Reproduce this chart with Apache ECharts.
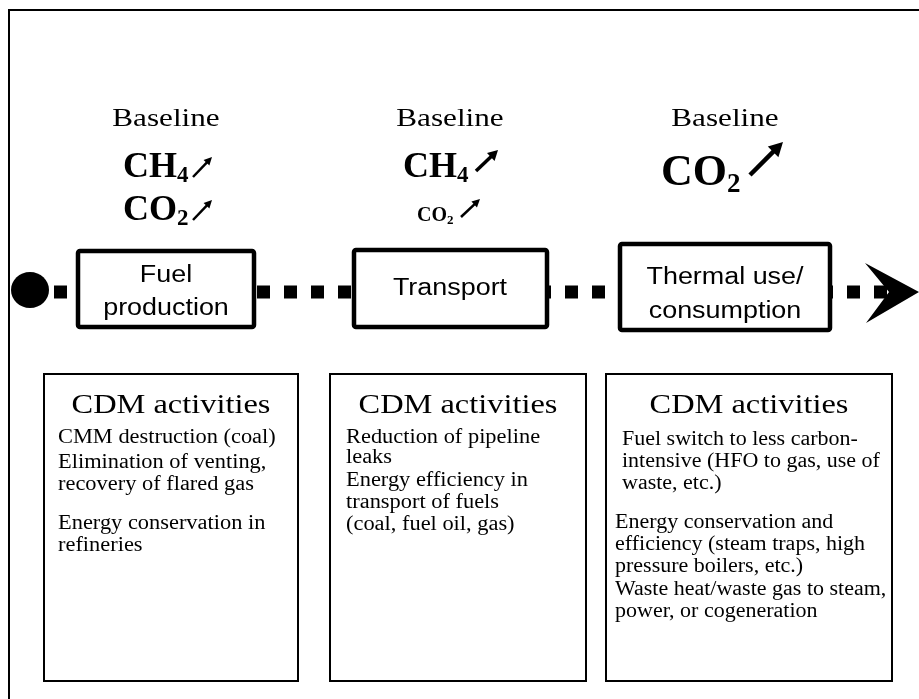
<!DOCTYPE html>
<html><head><meta charset="utf-8">
<script src="https://cdn.jsdelivr.net/npm/echarts@6/dist/echarts.min.js"></script>
<style>html,body{margin:0;padding:0;background:#fff}#c{width:919px;height:699px}</style>
</head><body><div id="c"></div>
<script>
// ---- content ----
const stageLabels = [['Fuel', 'production'], ['Transport'], ['Thermal use/', 'consumption']];
const baselineLabel = 'Baseline';
const gasesFuel = [['CH', '4'], ['CO', '2']];
const gasesTransport = [['CH', '4'], ['CO', '2']];
const gasesThermal = [['CO', '2']];
const activityTitle = 'CDM activities';
const activitiesFuel = ['CMM destruction (coal)', 'Elimination of venting,', 'recovery of flared gas', 'Energy conservation in', 'refineries'];
const activitiesTransport = ['Reduction of pipeline', 'leaks', 'Energy efficiency in', 'transport of fuels', '(coal, fuel oil, gas)'];
const activitiesThermal = ['Fuel switch to less carbon-', 'intensive (HFO to gas, use of', 'waste, etc.)', 'Energy conservation and', 'efficiency (steam traps, high', 'pressure boilers, etc.)', 'Waste heat/waste gas to steam,', 'power, or cogeneration'];

// ---- layout ----
const SERIF = '"Liberation Serif", "Times New Roman", serif';
const SANS = '"Liberation Sans", Arial, sans-serif';
const lineY = 292;
const stageBoxes = [
  {x: 78, y: 251, w: 176, h: 76},
  {x: 354, y: 250, w: 193, h: 77},
  {x: 620, y: 244, w: 210, h: 86}
];
const stageTextY = [[276, 309], [289], [278, 312]];
const actBoxes = [
  {x: 44, y: 374, w: 254, h: 307},
  {x: 330, y: 374, w: 256, h: 307},
  {x: 606, y: 374, w: 286, h: 307}
];
const colCenters = [166, 450, 725];
const actCenters = [171, 458, 749];

const els = [];
function txt(t, x, y, font, align, sx, z) {
  els.push({type: 'text', x: x, y: y, scaleX: sx || 1, z: z || 10,
    style: {text: t, x: 0, y: 0, font: font, fill: '#000',
      textAlign: align, align: align, textVerticalAlign: 'middle', verticalAlign: 'middle'}});
}
function arrow(x1, y1, x2, y2, lw, hl, hw) {
  const dx = x2 - x1, dy = y2 - y1, L = Math.hypot(dx, dy);
  const ux = dx / L, uy = dy / L, nx = -uy, ny = ux;
  const bx = x2 - ux * hl, by = y2 - uy * hl;
  els.push({type: 'line', z: 10, shape: {x1: x1, y1: y1, x2: bx + ux, y2: by + uy},
    style: {stroke: '#000', lineWidth: lw}});
  els.push({type: 'polygon', z: 10, shape: {points: [[x2, y2], [bx + nx * hw / 2, by + ny * hw / 2], [bx - nx * hw / 2, by - ny * hw / 2]]},
    style: {fill: '#000'}});
}

// outer frame (top and left edges)
els.push({type: 'polyline', z: 1, shape: {points: [[9, 699], [9, 10], [919, 10]]}, style: {stroke: '#000', lineWidth: 2, fill: null}});

// dotted flow line segments
const dashStyle = {stroke: '#000', lineWidth: 13, lineDash: [13, 14]};
[[54, 76], [257, 354], [538, 620], [820, 890]].forEach(function (s) {
  els.push({type: 'line', z: 2, shape: {x1: s[0], y1: lineY, x2: s[1], y2: lineY}, style: dashStyle});
});
// start dot
els.push({type: 'ellipse', z: 3, shape: {cx: 30, cy: 290, rx: 19, ry: 18}, style: {fill: '#000'}});
// end arrowhead
els.push({type: 'polygon', z: 3, shape: {points: [[865, 263], [919, 292], [866, 323], [889, 292]]}, style: {fill: '#000'}});

// stage boxes
stageBoxes.forEach(function (b, i) {
  els.push({type: 'rect', z: 5, shape: {x: b.x, y: b.y, width: b.w, height: b.h, r: 2},
    style: {fill: '#fff', stroke: '#000', lineWidth: 4.5}});
  stageLabels[i].forEach(function (t, k) {
    txt(t, colCenters[i], stageTextY[i][k], '23px ' + SANS, 'center', 1.17);
  });
});

// baseline headings
colCenters.forEach(function (cx) { txt(baselineLabel, cx, 119, '26px ' + SERIF, 'center', 1.2); });

// gases
function gas(pair, xSplit, y, big, small, subDy) {
  txt(pair[0], xSplit, y, 'bold ' + big + 'px ' + SERIF, 'right', 1);
  txt(pair[1], xSplit, y + subDy, 'bold ' + small + 'px ' + SERIF, 'left', 1);
}
gas(gasesFuel[0], 177, 168, 36, 23, 8);
gas(gasesFuel[1], 177, 211, 36, 23, 8);
arrow(193, 177, 212, 157, 2.5, 8, 8);
arrow(193, 220, 212, 200, 2.5, 8, 8);

gas(gasesTransport[0], 457, 168, 36, 23, 8);
gas(gasesTransport[1], 447, 216, 20, 13, 5);
arrow(476, 171, 498, 150, 3.5, 10, 11);
arrow(461, 217, 480, 199, 2.5, 8, 8);

gas(gasesThermal[0], 727, 174, 44, 27, 11);
arrow(750, 175, 783, 142, 4.5, 14, 15);

// activity boxes
actBoxes.forEach(function (b, i) {
  els.push({type: 'rect', z: 5, shape: {x: b.x, y: b.y, width: b.w, height: b.h},
    style: {fill: '#fff', stroke: '#000', lineWidth: 2}});
  txt(activityTitle, actCenters[i], 406, '27px ' + SERIF, 'center', 1.2);
});
const itemFont = '20px ' + SERIF;
const yA = [438, 463, 485, 524, 546];
activitiesFuel.forEach(function (t, k) { txt(t, 58, yA[k], itemFont, 'left', 1.12); });
const yB = [438, 458, 481, 503, 525];
activitiesTransport.forEach(function (t, k) { txt(t, 346, yB[k], itemFont, 'left', 1.12); });
const yC = [440, 462, 484, 523, 545, 567, 590, 612];
const xC = [622, 622, 622, 615, 615, 615, 615, 615];
activitiesThermal.forEach(function (t, k) { txt(t, xC[k], yC[k], itemFont, 'left', 1.1); });

const chart = echarts.init(document.getElementById('c'));
chart.setOption({animation: false, backgroundColor: '#fff', graphic: {elements: els}});
</script>
</body></html>
